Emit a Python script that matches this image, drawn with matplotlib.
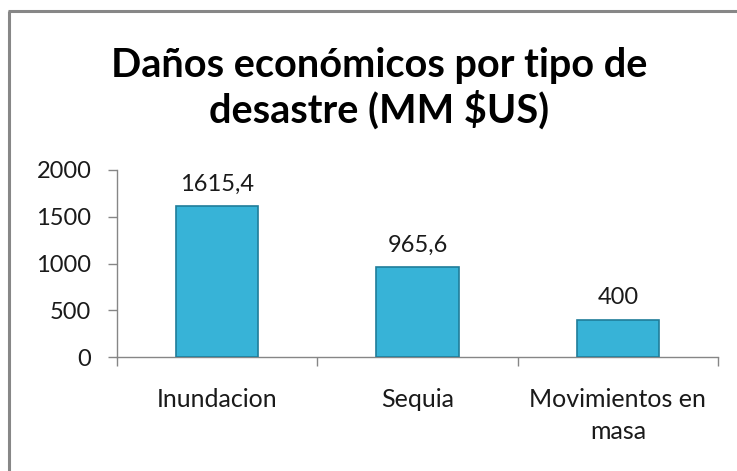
import matplotlib
matplotlib.use("Agg")
import matplotlib.pyplot as plt
from matplotlib.lines import Line2D

# chart data
categories = ["Inundacion", "Sequia", "Movimientos en\nmasa"]
values = [1615.4, 965.6, 400]
value_labels = ["1615,4", "965,6", "400"]
y_ticks = [0, 500, 1000, 1500, 2000]

TITLE = "Daños económicos por tipo de\ndesastre (MM $US)"

plt.rcParams["font.family"] = ["Lato", "DejaVu Sans"]

W, H = 737, 471
fig = plt.figure(figsize=(W / 100, H / 100), dpi=100)
fig.patch.set_facecolor("white")

# chart-area border (only left and top visible in the crop)
border = "#878787"
fig.add_artist(Line2D([9 / W, 9 / W], [0, 1 - 11 / H], color=border, lw=2.2,
                      transform=fig.transFigure, solid_capstyle="butt"))
fig.add_artist(Line2D([8 / W, 1], [1 - 11 / H, 1 - 11 / H], color=border, lw=2.2,
                      transform=fig.transFigure, solid_capstyle="butt"))

fig.text(0.515, 1 - 88 / H, TITLE, ha="center", va="center",
         fontsize=28.5, fontweight="bold", color="black", linespacing=1.2)

ax = fig.add_axes([117 / W, 1 - 357 / H, (718 - 117) / W, (357 - 170) / H])

x = list(range(len(categories)))
bars = ax.bar(x, values, width=0.41, color="#37b3d7", edgecolor="#1f7d9a",
              linewidth=1.2, zorder=3)

for b, lab in zip(bars, value_labels):
    ax.annotate(lab, (b.get_x() + b.get_width() / 2, b.get_height()),
                xytext=(0, 8), textcoords="offset points",
                ha="center", va="bottom", fontsize=17, color="#1a1a1a")

ax.set_xlim(-0.5, len(categories) - 0.5)
ax.set_ylim(0, 2000)
ax.set_yticks(y_ticks)
ax.set_yticklabels([str(v) for v in y_ticks])
ax.set_xticks(x)
ax.set_xticklabels(categories)
ax.set_xticks([i - 0.5 for i in range(len(categories) + 1)], minor=True)

axis_col = "#868686"
for side in ("top", "right"):
    ax.spines[side].set_visible(False)
for side in ("left", "bottom"):
    ax.spines[side].set_color(axis_col)
    ax.spines[side].set_linewidth(1.0)

ax.tick_params(axis="y", direction="out", length=6.5, width=1, color=axis_col,
               pad=12, labelsize=17, labelcolor="#1a1a1a")
ax.tick_params(axis="x", which="major", length=0, pad=22, labelsize=18,
               labelcolor="#1a1a1a")
ax.tick_params(axis="x", which="minor", direction="out", length=6.5, width=1,
               color=axis_col)
for t in ax.get_xticklabels():
    t.set_linespacing(1.5)

fig.savefig("out.png", dpi=100)
